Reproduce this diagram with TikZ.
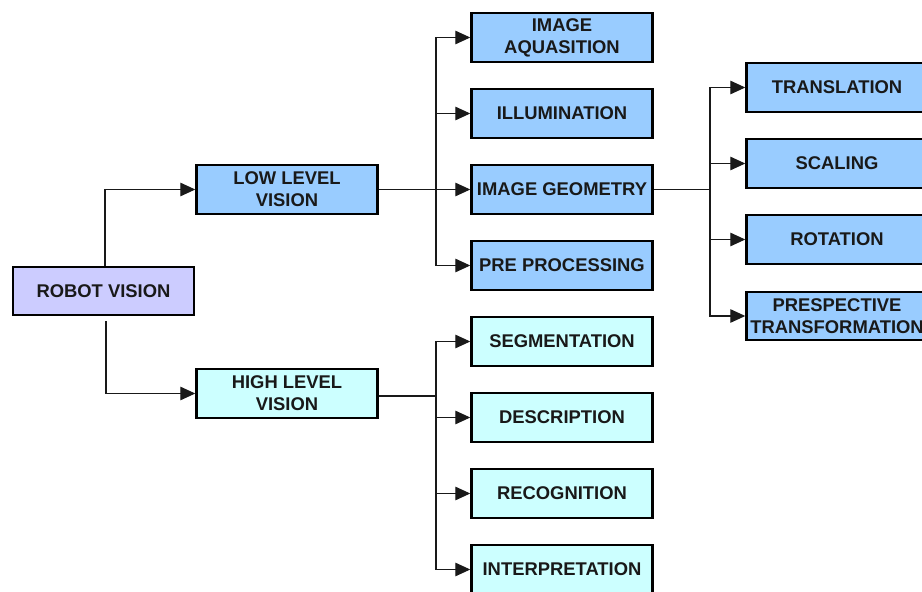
\documentclass[tikz,border=0pt]{standalone}
\usepackage{fontspec}
\setmainfont{Liberation Sans}
\usetikzlibrary{arrows.meta}
\definecolor{rootfill}{HTML}{CCCCFF}
\definecolor{lowfill}{HTML}{99CCFF}
\definecolor{highfill}{HTML}{CCFFFF}
\tikzset{
  box/.style={draw=black, line width=2.4pt, minimum width=181pt, minimum height=48.5pt,
    inner sep=0pt, align=center, text=black!90,
    font=\bfseries\fontsize{18.4}{22}\selectfont},
  root/.style={box, fill=rootfill},
  lowbox/.style={box, fill=lowfill},
  highbox/.style={box, fill=highfill},
  link/.style={draw=black!90, line width=1.2pt},
  arr/.style={link, -{Triangle[length=15pt,width=13.5pt]}}
}
\begin{document}
\begin{tikzpicture}[x=1pt,y=-1pt]
  \useasboundingbox (0,0) rectangle (922,592);
  \clip (0,0) rectangle (922,592);
  \fill[white] (0,0) rectangle (922,592);

  % root and the two branches
  \node[root] (robot) at (103.5,291) {ROBOT VISION};
  \node[lowbox] (low) at (287,189.5) {LOW LEVEL\\VISION};
  \node[highbox] (high) at (287,393.5) {HIGH LEVEL\\VISION};

  % low level vision steps
  \node[lowbox] (aq)  at (562,37.5)  {IMAGE\\AQUASITION};
  \node[lowbox] (ill) at (562,113.5) {ILLUMINATION};
  \node[lowbox] (geo) at (562,189.5) {IMAGE GEOMETRY};
  \node[lowbox] (pre) at (562,265.5) {PRE PROCESSING};

  % high level vision steps
  \node[highbox] (seg)  at (562,341.5) {SEGMENTATION};
  \node[highbox] (desc) at (562,417.5) {DESCRIPTION};
  \node[highbox] (rec)  at (562,493.5) {RECOGNITION};
  \node[highbox] (intp) at (562,569.5) {INTERPRETATION};

  % image geometry transforms
  \node[lowbox] (tr)  at (837,87.5)  {TRANSLATION};
  \node[lowbox] (sc)  at (837,163.5) {SCALING};
  \node[lowbox] (rot) at (837,239.5) {ROTATION};
  \node[lowbox] (per) at (837,316)   {PRESPECTIVE\\TRANSFORMATION};

  % root connectors
  \draw[arr] ([xshift=1.5pt]robot.north) |- (low.west);
  \draw[arr] ([xshift=2.5pt,yshift=-5pt]robot.south) |- (high.west);

  % fan-out junctions
  \coordinate (lj) at (436,189.5);
  \coordinate (hj) at (436,396);
  \coordinate (gj) at (710,189.5);

  \draw[link] (low.east) -- (lj);
  \foreach \c in {aq,ill,geo,pre} \draw[arr] (lj) |- (\c.west);

  \draw[link] (high.east |- hj) -- (hj);
  \foreach \c in {seg,desc,rec,intp} \draw[arr] (hj) |- (\c.west);

  \draw[link] (geo.east) -- (gj);
  \foreach \c in {tr,sc,rot,per} \draw[arr] (gj) |- (\c.west);
\end{tikzpicture}
\end{document}
